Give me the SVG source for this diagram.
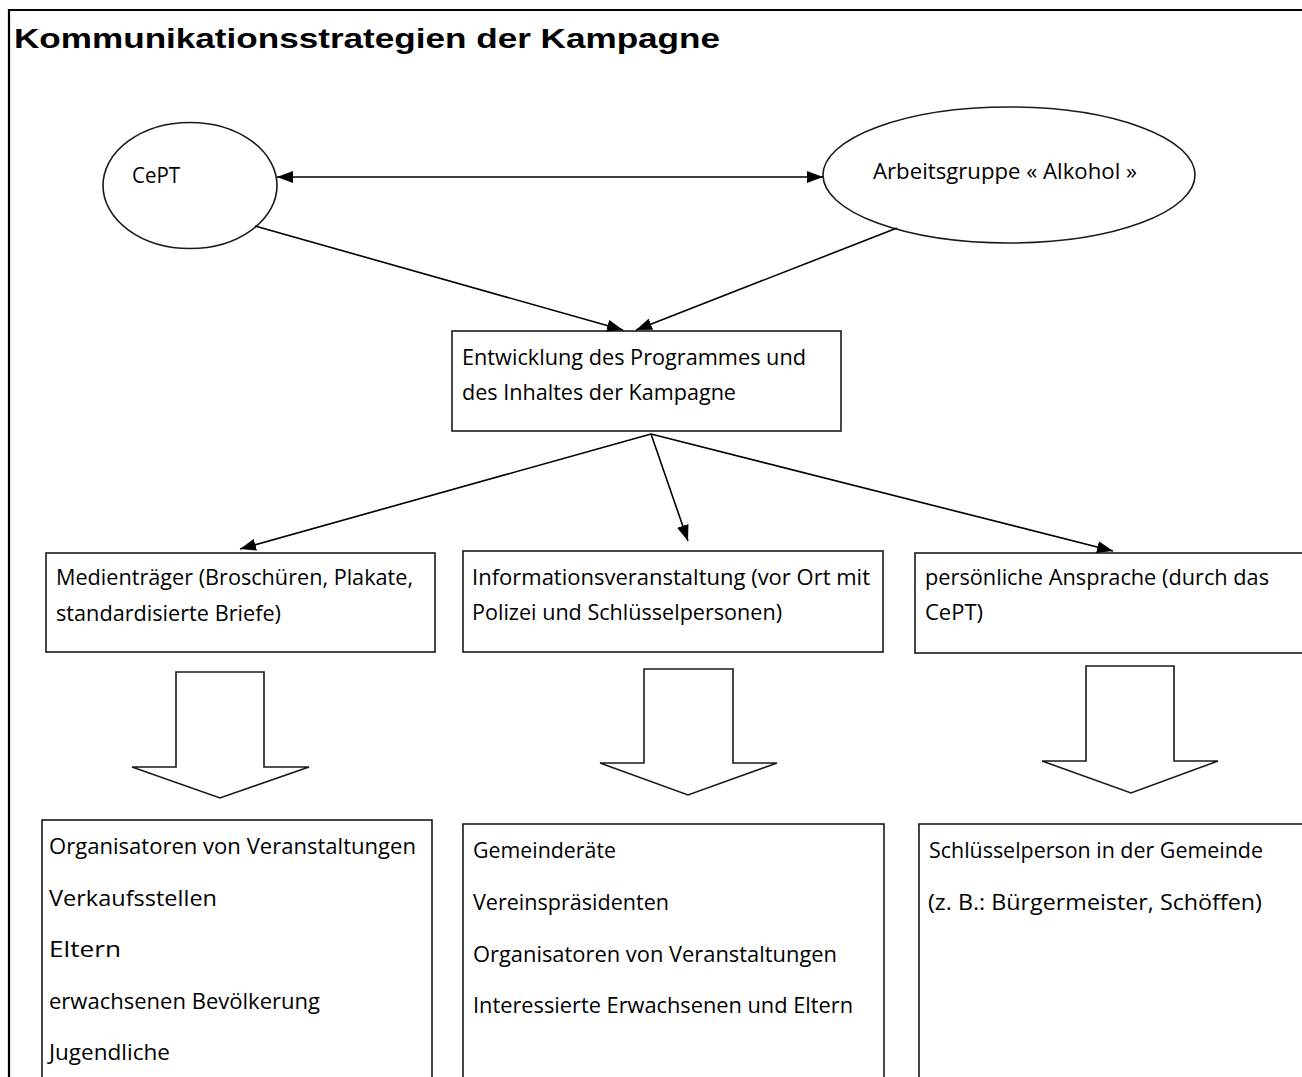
<svg xmlns="http://www.w3.org/2000/svg" width="1302" height="1077" viewBox="0 0 1302 1077">
<style>
.t{font-family:"Open Sans","Noto Sans","Liberation Sans",sans-serif;font-size:21px;fill:#000}
.title{font-family:"Liberation Sans",Arial,sans-serif;font-weight:bold;font-size:28px;fill:#000}
.shape{fill:#fff;stroke:#1a1a1a;stroke-width:1.6}
.edge{fill:none;stroke:#000;stroke-width:1.6}
</style>
<defs>
<marker id="ah" markerUnits="userSpaceOnUse" markerWidth="16" markerHeight="12" refX="16" refY="6" orient="auto-start-reverse">
<path d="M0,0 L16,6 L0,12 z" fill="#000"/>
</marker>
</defs>
<rect width="1302" height="1077" fill="#fff"/>
<path d="M9,1077 L9,10 L1302,10" fill="none" stroke="#000" stroke-width="2.2"/>
<text class="title" x="14" y="48" textLength="706" lengthAdjust="spacingAndGlyphs">Kommunikationsstrategien der Kampagne</text>

<g id="node-cept">
<ellipse class="shape" cx="190" cy="185.5" rx="87" ry="63"/>
<text class="t" x="132" y="183" textLength="48" lengthAdjust="spacingAndGlyphs">CePT</text>
</g>
<g id="node-arbeitsgruppe">
<ellipse class="shape" cx="1009" cy="175" rx="186" ry="68"/>
<text class="t" x="873" y="179" textLength="264" lengthAdjust="spacingAndGlyphs">Arbeitsgruppe « Alkohol »</text>
</g>
<g id="node-entwicklung">
<rect class="shape" x="452" y="331" width="389" height="100"/>
<text class="t" x="462" y="365" textLength="344" lengthAdjust="spacingAndGlyphs">Entwicklung des Programmes und</text>
<text class="t" x="462" y="400" textLength="274" lengthAdjust="spacingAndGlyphs">des Inhaltes der Kampagne</text>
</g>
<g id="node-medien">
<rect class="shape" x="46" y="553" width="389" height="99"/>
<text class="t" x="56" y="585" textLength="357" lengthAdjust="spacingAndGlyphs">Medienträger (Broschüren, Plakate,</text>
<text class="t" x="56" y="621" textLength="225" lengthAdjust="spacingAndGlyphs">standardisierte Briefe)</text>
</g>
<g id="node-information">
<rect class="shape" x="463" y="551" width="420" height="101"/>
<text class="t" x="472" y="585" textLength="398" lengthAdjust="spacingAndGlyphs">Informationsveranstaltung (vor Ort mit</text>
<text class="t" x="472" y="620" textLength="310" lengthAdjust="spacingAndGlyphs">Polizei und Schlüsselpersonen)</text>
</g>
<g id="node-persoenlich">
<rect class="shape" x="915" y="553" width="400" height="100"/>
<text class="t" x="925" y="585" textLength="344" lengthAdjust="spacingAndGlyphs">persönliche Ansprache (durch das</text>
<text class="t" x="925" y="620" textLength="58" lengthAdjust="spacingAndGlyphs">CePT)</text>
</g>

<g id="blockarrow-1">
<path class="shape" d="M176,672 L264,672 L264,767 L309,767 L220,798 L132,767 L176,767 Z"/>
</g>
<g id="blockarrow-2">
<path class="shape" d="M644,669 L733,669 L733,763 L777,763 L688,795 L600,763 L644,763 Z"/>
</g>
<g id="blockarrow-3">
<path class="shape" d="M1086,666 L1174,666 L1174,761 L1218,761 L1131,793 L1042,761 L1086,761 Z"/>
</g>

<g id="node-ziel-medien">
<rect class="shape" x="42" y="820" width="390" height="270"/>
<text class="t" x="49" y="854" textLength="367" lengthAdjust="spacingAndGlyphs">Organisatoren von Veranstaltungen</text>
<text class="t" x="49" y="906" textLength="168" lengthAdjust="spacingAndGlyphs">Verkaufsstellen</text>
<text class="t" x="49" y="957" textLength="72" lengthAdjust="spacingAndGlyphs">Eltern</text>
<text class="t" x="49" y="1009" textLength="271" lengthAdjust="spacingAndGlyphs">erwachsenen Bevölkerung</text>
<text class="t" x="49" y="1060" textLength="121" lengthAdjust="spacingAndGlyphs">Jugendliche</text>
</g>
<g id="node-ziel-information">
<rect class="shape" x="463" y="824" width="421" height="270"/>
<text class="t" x="473" y="858" textLength="143" lengthAdjust="spacingAndGlyphs">Gemeinderäte</text>
<text class="t" x="473" y="910" textLength="196" lengthAdjust="spacingAndGlyphs">Vereinspräsidenten</text>
<text class="t" x="473" y="962" textLength="364" lengthAdjust="spacingAndGlyphs">Organisatoren von Veranstaltungen</text>
<text class="t" x="473" y="1013" textLength="380" lengthAdjust="spacingAndGlyphs">Interessierte Erwachsenen und Eltern</text>
</g>
<g id="node-ziel-persoenlich">
<rect class="shape" x="919" y="824" width="400" height="270"/>
<text class="t" x="929" y="858" textLength="334" lengthAdjust="spacingAndGlyphs">Schlüsselperson in der Gemeinde</text>
<text class="t" x="928" y="910" textLength="334" lengthAdjust="spacingAndGlyphs">(z. B.: Bürgermeister, Schöffen)</text>
</g>

<g id="connectors">
<line class="edge" x1="277" y1="177" x2="823" y2="177" marker-start="url(#ah)" marker-end="url(#ah)"/>
<line class="edge" x1="255" y1="226" x2="623" y2="330" marker-end="url(#ah)"/>
<line class="edge" x1="897" y1="228" x2="636" y2="330" marker-end="url(#ah)"/>
<line class="edge" x1="651" y1="434" x2="240" y2="549" marker-end="url(#ah)"/>
<line class="edge" x1="651" y1="434" x2="688" y2="541" marker-end="url(#ah)"/>
<line class="edge" x1="651" y1="434" x2="1113" y2="551" marker-end="url(#ah)"/>
</g>
</svg>
